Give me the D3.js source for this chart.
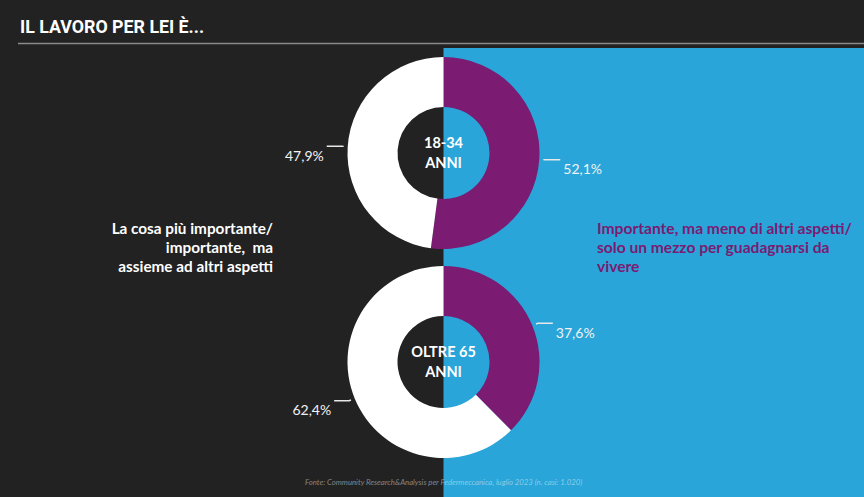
<!DOCTYPE html>
<html><head><meta charset="utf-8">
<script src="https://cdn.jsdelivr.net/npm/d3@7"></script>
<style>
html,body{margin:0;padding:0;background:#222222;overflow:hidden}
svg{display:block}
</style></head>
<body>
<svg id="chart" width="864" height="497"></svg>
<script>
// ---- data ----
const title = "IL LAVORO PER LEI È...";
const groupLabels = [["18-34", "ANNI"], ["OLTRE 65", "ANNI"]];
const seriesLeftLines = ["La cosa più importante/", "importante,  ma", "assieme ad altri aspetti"];
const seriesRightLines = ["Importante, ma meno di altri aspetti/", "solo un mezzo per guadagnarsi da", "vivere"];
const valuesMeno = [52.1, 37.6];       // Importante, ma meno di altri aspetti / solo un mezzo
const valuesPiu = [47.9, 62.4];        // La cosa più importante / importante, ma assieme ad altri aspetti
const source = "Fonte: Community Research&Analysis per Federmeccanica, luglio 2023 (n. casi: 1.020)";

// ---- styles ----
const W = 864, H = 497;
const DARK = "#222222", BLUE = "#29a5d9", PURPLE = "#7b1b72", WHITE = "#ffffff";
const svg = d3.select("#chart");

svg.append("rect").attr("width", W).attr("height", H).attr("fill", DARK);
const splitX = 443.5;
svg.append("rect").attr("x", splitX).attr("y", 48).attr("width", W - splitX).attr("height", H - 48).attr("fill", BLUE);

// title
svg.append("text").attr("x", 20).attr("y", 33)
  .attr("font-family", "Roboto, 'DejaVu Sans', sans-serif").attr("font-weight", 700)
  .attr("font-size", 17.8).attr("fill", WHITE).text(title);
svg.append("line").attr("x1", 18).attr("x2", W).attr("y1", 43.5).attr("y2", 43.5)
  .attr("stroke", "#8a8a8a").attr("stroke-width", 1.5);

// donuts
const centersY = d3.scaleOrdinal().domain([0, 1]).range([153, 362]);
const rOuter = 96, rInner = 46;
const pie = d3.pie().sort(null).value(d => d.v);
const arc = d3.arc().innerRadius(rInner).outerRadius(rOuter);
const fmt = v => d3.format(".1f")(v).replace(".", ",") + "%";

groupLabels.forEach((lab, i) => {
  const g = svg.append("g").attr("transform", `translate(${splitX},${centersY(i)})`);
  const data = [{v: valuesMeno[i], c: PURPLE}, {v: valuesPiu[i], c: WHITE}];
  const arcs = pie(data);
  g.selectAll("path.slice").data(arcs).enter().append("path")
    .attr("class", "slice").attr("d", arc).attr("fill", d => d.data.c);

  arcs.forEach(a => {
    const mid = (a.startAngle + a.endAngle) / 2;
    const s = Math.sin(mid), c = -Math.cos(mid);
    const p1 = [s * (rOuter + 4), c * (rOuter + 4)];
    const p2 = [s * (rOuter + 6), c * (rOuter + 6)];
    const right = s > 0;
    const p3 = [p2[0] + (right ? 15 : -15), p2[1]];
    g.append("polyline").attr("points", [p1, p2, p3].map(p => p.join(",")).join(" "))
      .attr("fill", "none").attr("stroke", "#e8e8e8").attr("stroke-width", 1.4);
    g.append("text").attr("x", p3[0] + (right ? 3 : -3)).attr("y", p3[1] + 14.5)
      .attr("text-anchor", right ? "start" : "end")
      .attr("font-family", "Lato, 'Open Sans', sans-serif").attr("font-weight", 400)
      .attr("font-size", 14).attr("fill", "#f2f2f2").text(fmt(a.data.v));
  });

  lab.forEach((t, k) => {
    g.append("text").attr("x", 0).attr("y", k === 0 ? -5 : 15).attr("text-anchor", "middle")
      .attr("font-family", "Lato, 'Open Sans', sans-serif").attr("font-weight", 700)
      .attr("font-size", 14.5).attr("fill", WHITE).text(t);
  });
});

// series descriptions
const lineYs = d3.scaleLinear().domain([0, 2]).range([234, 272]);
seriesLeftLines.forEach((t, k) => {
  svg.append("text").attr("x", 273).attr("y", lineYs(k)).attr("text-anchor", "end")
    .attr("font-family", "Lato, 'Open Sans', sans-serif").attr("font-weight", 700)
    .attr("font-size", 15.3).attr("fill", WHITE).attr("xml:space", "preserve").text(t);
});
seriesRightLines.forEach((t, k) => {
  svg.append("text").attr("x", 597).attr("y", lineYs(k)).attr("text-anchor", "start")
    .attr("font-family", "Lato, 'Open Sans', sans-serif").attr("font-weight", 700)
    .attr("font-size", 15.6).attr("fill", PURPLE).text(t);
});

// source
svg.append("text").attr("x", 305).attr("y", 485)
  .attr("font-family", "Lato, 'Open Sans', sans-serif").attr("font-style", "italic")
  .attr("font-size", 7.75).attr("fill", "#ffffff").attr("fill-opacity", 0.45).text(source);
</script>
</body></html>
